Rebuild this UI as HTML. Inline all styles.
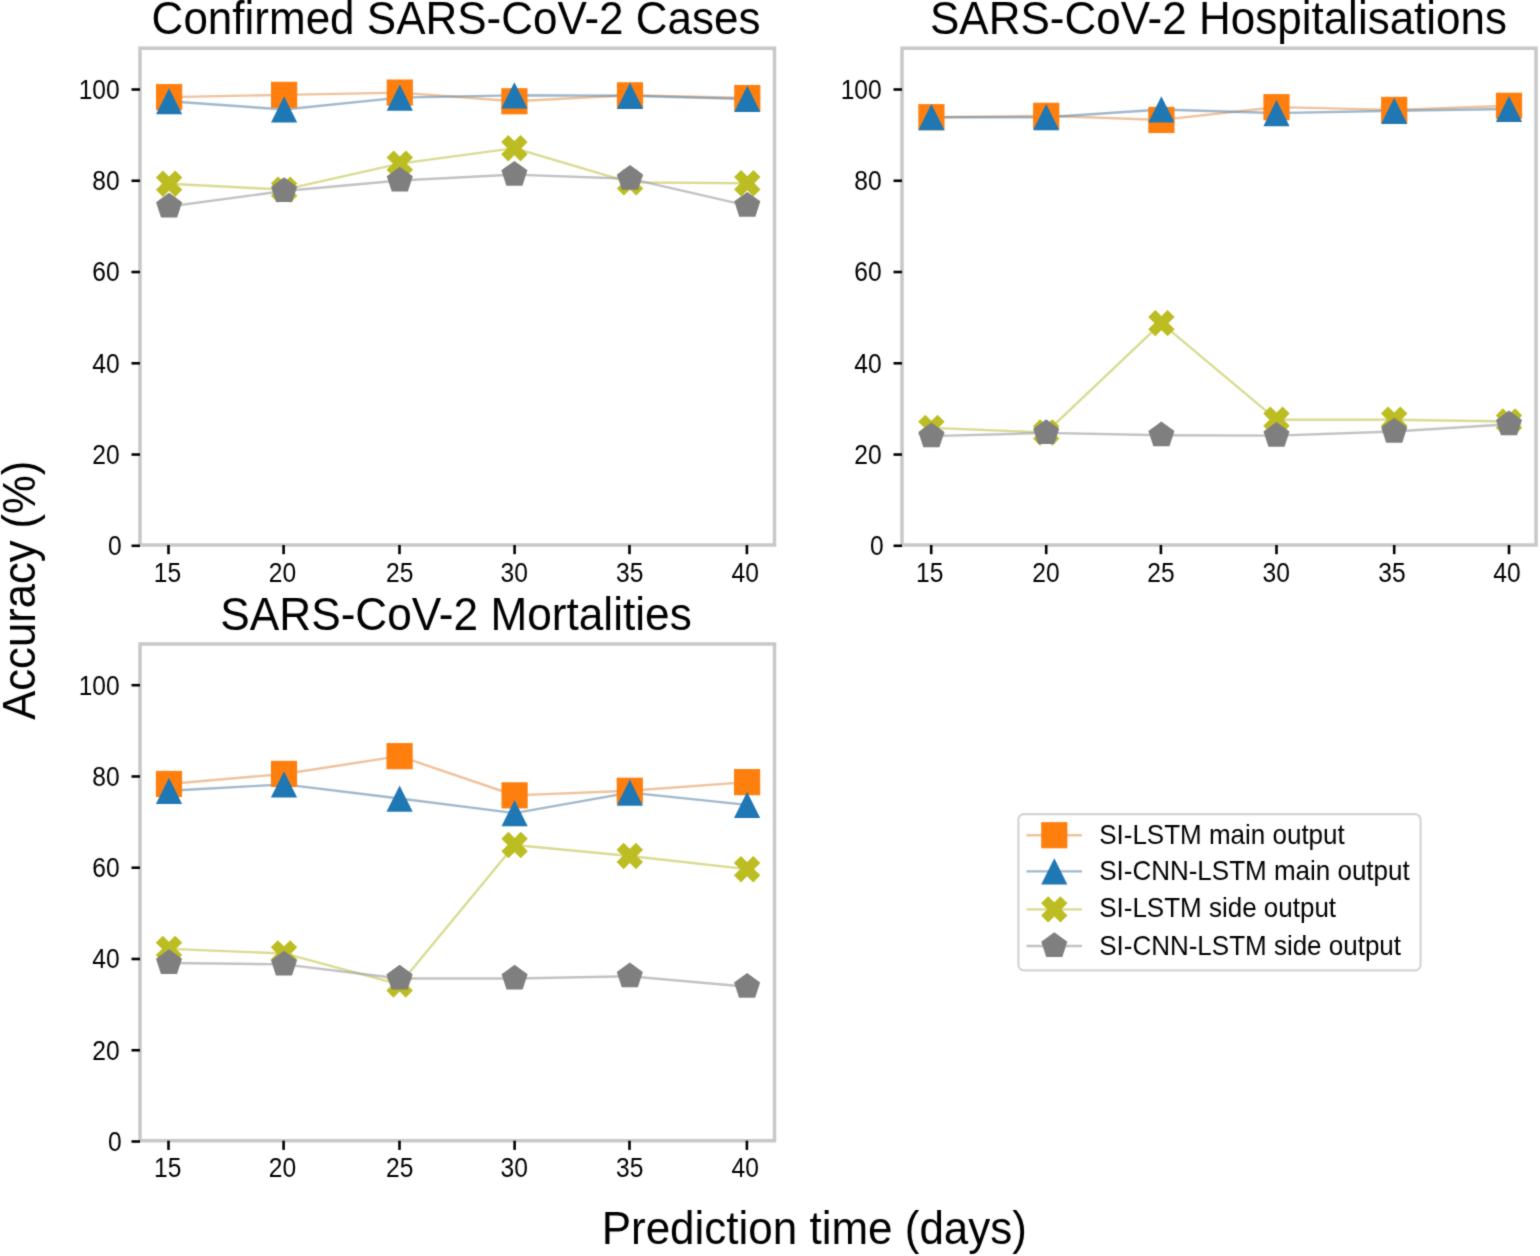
<!DOCTYPE html>
<html><head><meta charset="utf-8"><title>Accuracy chart</title>
<style>
html,body{margin:0;padding:0;background:#fff;}
body{width:1540px;height:1256px;overflow:hidden;}
#c{width:1540px;height:1256px;}
svg text{font-family:"Liberation Sans", Arial, Helvetica, sans-serif;fill:#000;}
</style></head><body><div id="c">
<svg width="1540" height="1256" viewBox="0 0 1540 1256" style="display:block">
<defs><filter id="bl" x="0" y="0" width="1540" height="1256" filterUnits="userSpaceOnUse" color-interpolation-filters="sRGB"><feConvolveMatrix order="3" kernelMatrix="0.03 0.09 0.03 0.09 0.52 0.09 0.03 0.09 0.03" edgeMode="duplicate"/></filter></defs>
<g filter="url(#bl)">
<rect width="1540" height="1256" fill="#fff"/>
<rect x="140.0" y="48.2" width="634.50" height="496.80" fill="none" stroke="#c8c8c8" stroke-width="3.5"/>
<line x1="131.5" y1="545.80" x2="140.0" y2="545.80" stroke="#000" stroke-width="2.6"/>
<text transform="translate(121.70,555.10) scale(0.965,1.065)" text-anchor="end" font-size="25.5">0</text>
<line x1="131.5" y1="454.54" x2="140.0" y2="454.54" stroke="#000" stroke-width="2.6"/>
<text transform="translate(119.70,463.84) scale(0.965,1.065)" text-anchor="end" font-size="25.5">20</text>
<line x1="131.5" y1="363.28" x2="140.0" y2="363.28" stroke="#000" stroke-width="2.6"/>
<text transform="translate(119.70,372.58) scale(0.965,1.065)" text-anchor="end" font-size="25.5">40</text>
<line x1="131.5" y1="272.02" x2="140.0" y2="272.02" stroke="#000" stroke-width="2.6"/>
<text transform="translate(119.70,281.32) scale(0.965,1.065)" text-anchor="end" font-size="25.5">60</text>
<line x1="131.5" y1="180.76" x2="140.0" y2="180.76" stroke="#000" stroke-width="2.6"/>
<text transform="translate(119.70,190.06) scale(0.965,1.065)" text-anchor="end" font-size="25.5">80</text>
<line x1="131.5" y1="89.50" x2="140.0" y2="89.50" stroke="#000" stroke-width="2.6"/>
<text transform="translate(119.70,98.80) scale(0.965,1.065)" text-anchor="end" font-size="25.5">100</text>
<line x1="168.50" y1="545.0" x2="168.50" y2="554.2" stroke="#000" stroke-width="2.6"/>
<text transform="translate(167.40,581.50) scale(0.965,1.065)" text-anchor="middle" font-size="25.5">15</text>
<line x1="283.60" y1="545.0" x2="283.60" y2="554.2" stroke="#000" stroke-width="2.6"/>
<text transform="translate(282.40,581.50) scale(0.965,1.065)" text-anchor="middle" font-size="25.5">20</text>
<line x1="399.50" y1="545.0" x2="399.50" y2="554.2" stroke="#000" stroke-width="2.6"/>
<text transform="translate(399.70,581.50) scale(0.965,1.065)" text-anchor="middle" font-size="25.5">25</text>
<line x1="514.60" y1="545.0" x2="514.60" y2="554.2" stroke="#000" stroke-width="2.6"/>
<text transform="translate(514.30,581.50) scale(0.965,1.065)" text-anchor="middle" font-size="25.5">30</text>
<line x1="629.50" y1="545.0" x2="629.50" y2="554.2" stroke="#000" stroke-width="2.6"/>
<text transform="translate(629.70,581.50) scale(0.965,1.065)" text-anchor="middle" font-size="25.5">35</text>
<line x1="746.90" y1="545.0" x2="746.90" y2="554.2" stroke="#000" stroke-width="2.6"/>
<text transform="translate(745.30,581.50) scale(0.965,1.065)" text-anchor="middle" font-size="25.5">40</text>
<polyline points="169.10,97.15 284.10,94.87 399.80,92.59 514.40,101.25 630.00,95.32 747.30,98.06" fill="none" stroke="#e4995a" stroke-opacity="0.6" stroke-width="2.4" stroke-linejoin="round"/>
<polyline points="169.10,101.25 284.10,109.45 399.80,97.60 514.40,95.32 630.00,95.78 747.30,98.97" fill="none" stroke="#6189aa" stroke-opacity="0.6" stroke-width="2.4" stroke-linejoin="round"/>
<polyline points="169.10,183.71 284.10,189.63 399.80,163.66 514.40,148.17 630.00,182.34 747.30,183.25" fill="none" stroke="#c0c347" stroke-opacity="0.6" stroke-width="2.4" stroke-linejoin="round"/>
<polyline points="169.10,206.49 284.10,191.00 399.80,180.52 514.40,174.60 630.00,178.70 747.30,205.58" fill="none" stroke="#9a9aa0" stroke-opacity="0.6" stroke-width="2.4" stroke-linejoin="round"/>
<rect x="156.00" y="84.05" width="26.20" height="26.20" fill="#ff7f0e"/>
<rect x="271.00" y="81.77" width="26.20" height="26.20" fill="#ff7f0e"/>
<rect x="386.70" y="79.49" width="26.20" height="26.20" fill="#ff7f0e"/>
<rect x="501.30" y="88.15" width="26.20" height="26.20" fill="#ff7f0e"/>
<rect x="616.90" y="82.22" width="26.20" height="26.20" fill="#ff7f0e"/>
<rect x="734.20" y="84.96" width="26.20" height="26.20" fill="#ff7f0e"/>
<polygon points="169.10,88.15 156.00,114.35 182.20,114.35" fill="#1f77b4"/>
<polygon points="284.10,96.35 271.00,122.55 297.20,122.55" fill="#1f77b4"/>
<polygon points="399.80,84.50 386.70,110.70 412.90,110.70" fill="#1f77b4"/>
<polygon points="514.40,82.22 501.30,108.42 527.50,108.42" fill="#1f77b4"/>
<polygon points="630.00,82.68 616.90,108.88 643.10,108.88" fill="#1f77b4"/>
<polygon points="747.30,85.87 734.20,112.07 760.40,112.07" fill="#1f77b4"/>
<polygon points="162.95,171.41 169.10,177.56 175.25,171.41 181.40,177.56 175.25,183.71 181.40,189.86 175.25,196.01 169.10,189.86 162.95,196.01 156.80,189.86 162.95,183.71 156.80,177.56" fill="#bcbd22" stroke="#bcbd22" stroke-width="1.3"/>
<polygon points="277.95,177.33 284.10,183.48 290.25,177.33 296.40,183.48 290.25,189.63 296.40,195.78 290.25,201.93 284.10,195.78 277.95,201.93 271.80,195.78 277.95,189.63 271.80,183.48" fill="#bcbd22" stroke="#bcbd22" stroke-width="1.3"/>
<polygon points="393.65,151.36 399.80,157.51 405.95,151.36 412.10,157.51 405.95,163.66 412.10,169.81 405.95,175.96 399.80,169.81 393.65,175.96 387.50,169.81 393.65,163.66 387.50,157.51" fill="#bcbd22" stroke="#bcbd22" stroke-width="1.3"/>
<polygon points="508.25,135.87 514.40,142.02 520.55,135.87 526.70,142.02 520.55,148.17 526.70,154.32 520.55,160.47 514.40,154.32 508.25,160.47 502.10,154.32 508.25,148.17 502.10,142.02" fill="#bcbd22" stroke="#bcbd22" stroke-width="1.3"/>
<polygon points="623.85,170.04 630.00,176.19 636.15,170.04 642.30,176.19 636.15,182.34 642.30,188.49 636.15,194.64 630.00,188.49 623.85,194.64 617.70,188.49 623.85,182.34 617.70,176.19" fill="#bcbd22" stroke="#bcbd22" stroke-width="1.3"/>
<polygon points="741.15,170.95 747.30,177.10 753.45,170.95 759.60,177.10 753.45,183.25 759.60,189.40 753.45,195.55 747.30,189.40 741.15,195.55 735.00,189.40 741.15,183.25 735.00,177.10" fill="#bcbd22" stroke="#bcbd22" stroke-width="1.3"/>
<polygon points="169.10,192.79 156.07,202.26 161.05,217.57 177.15,217.57 182.13,202.26" fill="#7f7f7f"/>
<polygon points="284.10,177.30 271.07,186.77 276.05,202.08 292.15,202.08 297.13,186.77" fill="#7f7f7f"/>
<polygon points="399.80,166.82 386.77,176.29 391.75,191.60 407.85,191.60 412.83,176.29" fill="#7f7f7f"/>
<polygon points="514.40,160.90 501.37,170.36 506.35,185.68 522.45,185.68 527.43,170.36" fill="#7f7f7f"/>
<polygon points="630.00,165.00 616.97,174.46 621.95,189.78 638.05,189.78 643.03,174.46" fill="#7f7f7f"/>
<polygon points="747.30,191.88 734.27,201.34 739.25,216.66 755.35,216.66 760.33,201.34" fill="#7f7f7f"/>
<rect x="902.0" y="48.2" width="634.00" height="496.80" fill="none" stroke="#c8c8c8" stroke-width="3.5"/>
<line x1="893.5" y1="545.80" x2="902.0" y2="545.80" stroke="#000" stroke-width="2.6"/>
<text transform="translate(883.70,555.10) scale(0.965,1.065)" text-anchor="end" font-size="25.5">0</text>
<line x1="893.5" y1="454.54" x2="902.0" y2="454.54" stroke="#000" stroke-width="2.6"/>
<text transform="translate(881.70,463.84) scale(0.965,1.065)" text-anchor="end" font-size="25.5">20</text>
<line x1="893.5" y1="363.28" x2="902.0" y2="363.28" stroke="#000" stroke-width="2.6"/>
<text transform="translate(881.70,372.58) scale(0.965,1.065)" text-anchor="end" font-size="25.5">40</text>
<line x1="893.5" y1="272.02" x2="902.0" y2="272.02" stroke="#000" stroke-width="2.6"/>
<text transform="translate(881.70,281.32) scale(0.965,1.065)" text-anchor="end" font-size="25.5">60</text>
<line x1="893.5" y1="180.76" x2="902.0" y2="180.76" stroke="#000" stroke-width="2.6"/>
<text transform="translate(881.70,190.06) scale(0.965,1.065)" text-anchor="end" font-size="25.5">80</text>
<line x1="893.5" y1="89.50" x2="902.0" y2="89.50" stroke="#000" stroke-width="2.6"/>
<text transform="translate(881.70,98.80) scale(0.965,1.065)" text-anchor="end" font-size="25.5">100</text>
<line x1="931.20" y1="545.0" x2="931.20" y2="554.2" stroke="#000" stroke-width="2.6"/>
<text transform="translate(929.80,581.50) scale(0.965,1.065)" text-anchor="middle" font-size="25.5">15</text>
<line x1="1046.20" y1="545.0" x2="1046.20" y2="554.2" stroke="#000" stroke-width="2.6"/>
<text transform="translate(1046.00,581.50) scale(0.965,1.065)" text-anchor="middle" font-size="25.5">20</text>
<line x1="1160.90" y1="545.0" x2="1160.90" y2="554.2" stroke="#000" stroke-width="2.6"/>
<text transform="translate(1160.90,581.50) scale(0.965,1.065)" text-anchor="middle" font-size="25.5">25</text>
<line x1="1276.50" y1="545.0" x2="1276.50" y2="554.2" stroke="#000" stroke-width="2.6"/>
<text transform="translate(1276.20,581.50) scale(0.965,1.065)" text-anchor="middle" font-size="25.5">30</text>
<line x1="1394.20" y1="545.0" x2="1394.20" y2="554.2" stroke="#000" stroke-width="2.6"/>
<text transform="translate(1391.90,581.50) scale(0.965,1.065)" text-anchor="middle" font-size="25.5">35</text>
<line x1="1509.00" y1="545.0" x2="1509.00" y2="554.2" stroke="#000" stroke-width="2.6"/>
<text transform="translate(1506.90,581.50) scale(0.965,1.065)" text-anchor="middle" font-size="25.5">40</text>
<polyline points="931.40,117.19 1046.20,115.82 1161.40,119.93 1276.50,107.17 1394.20,109.90 1509.00,105.80" fill="none" stroke="#e4995a" stroke-opacity="0.6" stroke-width="2.4" stroke-linejoin="round"/>
<polyline points="931.40,117.19 1046.20,117.19 1161.40,109.45 1276.50,113.09 1394.20,110.81 1509.00,108.99" fill="none" stroke="#6189aa" stroke-opacity="0.6" stroke-width="2.4" stroke-linejoin="round"/>
<polyline points="931.40,427.91 1046.20,432.47 1161.40,323.12 1276.50,419.71 1394.20,419.71 1509.00,421.53" fill="none" stroke="#c0c347" stroke-opacity="0.6" stroke-width="2.4" stroke-linejoin="round"/>
<polyline points="931.40,436.11 1046.20,432.92 1161.40,435.20 1276.50,435.66 1394.20,431.56 1509.00,424.27" fill="none" stroke="#9a9aa0" stroke-opacity="0.6" stroke-width="2.4" stroke-linejoin="round"/>
<rect x="918.30" y="104.09" width="26.20" height="26.20" fill="#ff7f0e"/>
<rect x="1033.10" y="102.72" width="26.20" height="26.20" fill="#ff7f0e"/>
<rect x="1148.30" y="106.83" width="26.20" height="26.20" fill="#ff7f0e"/>
<rect x="1263.40" y="94.07" width="26.20" height="26.20" fill="#ff7f0e"/>
<rect x="1381.10" y="96.80" width="26.20" height="26.20" fill="#ff7f0e"/>
<rect x="1495.90" y="92.70" width="26.20" height="26.20" fill="#ff7f0e"/>
<polygon points="931.40,104.09 918.30,130.29 944.50,130.29" fill="#1f77b4"/>
<polygon points="1046.20,104.09 1033.10,130.29 1059.30,130.29" fill="#1f77b4"/>
<polygon points="1161.40,96.35 1148.30,122.55 1174.50,122.55" fill="#1f77b4"/>
<polygon points="1276.50,99.99 1263.40,126.19 1289.60,126.19" fill="#1f77b4"/>
<polygon points="1394.20,97.71 1381.10,123.91 1407.30,123.91" fill="#1f77b4"/>
<polygon points="1509.00,95.89 1495.90,122.09 1522.10,122.09" fill="#1f77b4"/>
<polygon points="925.25,415.61 931.40,421.76 937.55,415.61 943.70,421.76 937.55,427.91 943.70,434.06 937.55,440.21 931.40,434.06 925.25,440.21 919.10,434.06 925.25,427.91 919.10,421.76" fill="#bcbd22" stroke="#bcbd22" stroke-width="1.3"/>
<polygon points="1040.05,420.17 1046.20,426.32 1052.35,420.17 1058.50,426.32 1052.35,432.47 1058.50,438.62 1052.35,444.77 1046.20,438.62 1040.05,444.77 1033.90,438.62 1040.05,432.47 1033.90,426.32" fill="#bcbd22" stroke="#bcbd22" stroke-width="1.3"/>
<polygon points="1155.25,310.82 1161.40,316.97 1167.55,310.82 1173.70,316.97 1167.55,323.12 1173.70,329.27 1167.55,335.42 1161.40,329.27 1155.25,335.42 1149.10,329.27 1155.25,323.12 1149.10,316.97" fill="#bcbd22" stroke="#bcbd22" stroke-width="1.3"/>
<polygon points="1270.35,407.41 1276.50,413.56 1282.65,407.41 1288.80,413.56 1282.65,419.71 1288.80,425.86 1282.65,432.01 1276.50,425.86 1270.35,432.01 1264.20,425.86 1270.35,419.71 1264.20,413.56" fill="#bcbd22" stroke="#bcbd22" stroke-width="1.3"/>
<polygon points="1388.05,407.41 1394.20,413.56 1400.35,407.41 1406.50,413.56 1400.35,419.71 1406.50,425.86 1400.35,432.01 1394.20,425.86 1388.05,432.01 1381.90,425.86 1388.05,419.71 1381.90,413.56" fill="#bcbd22" stroke="#bcbd22" stroke-width="1.3"/>
<polygon points="1502.85,409.23 1509.00,415.38 1515.15,409.23 1521.30,415.38 1515.15,421.53 1521.30,427.68 1515.15,433.83 1509.00,427.68 1502.85,433.83 1496.70,427.68 1502.85,421.53 1496.70,415.38" fill="#bcbd22" stroke="#bcbd22" stroke-width="1.3"/>
<polygon points="931.40,422.41 918.37,431.88 923.35,447.20 939.45,447.20 944.43,431.88" fill="#7f7f7f"/>
<polygon points="1046.20,419.22 1033.17,428.69 1038.15,444.01 1054.25,444.01 1059.23,428.69" fill="#7f7f7f"/>
<polygon points="1161.40,421.50 1148.37,430.97 1153.35,446.28 1169.45,446.28 1174.43,430.97" fill="#7f7f7f"/>
<polygon points="1276.50,421.96 1263.47,431.42 1268.45,446.74 1284.55,446.74 1289.53,431.42" fill="#7f7f7f"/>
<polygon points="1394.20,417.86 1381.17,427.32 1386.15,442.64 1402.25,442.64 1407.23,427.32" fill="#7f7f7f"/>
<polygon points="1509.00,410.57 1495.97,420.03 1500.95,435.35 1517.05,435.35 1522.03,420.03" fill="#7f7f7f"/>
<rect x="140.0" y="644.0" width="634.50" height="496.70" fill="none" stroke="#c8c8c8" stroke-width="3.5"/>
<line x1="131.5" y1="1141.50" x2="140.0" y2="1141.50" stroke="#000" stroke-width="2.6"/>
<text transform="translate(121.70,1150.80) scale(0.965,1.065)" text-anchor="end" font-size="25.5">0</text>
<line x1="131.5" y1="1050.24" x2="140.0" y2="1050.24" stroke="#000" stroke-width="2.6"/>
<text transform="translate(119.70,1059.54) scale(0.965,1.065)" text-anchor="end" font-size="25.5">20</text>
<line x1="131.5" y1="958.98" x2="140.0" y2="958.98" stroke="#000" stroke-width="2.6"/>
<text transform="translate(119.70,968.28) scale(0.965,1.065)" text-anchor="end" font-size="25.5">40</text>
<line x1="131.5" y1="867.72" x2="140.0" y2="867.72" stroke="#000" stroke-width="2.6"/>
<text transform="translate(119.70,877.02) scale(0.965,1.065)" text-anchor="end" font-size="25.5">60</text>
<line x1="131.5" y1="776.46" x2="140.0" y2="776.46" stroke="#000" stroke-width="2.6"/>
<text transform="translate(119.70,785.76) scale(0.965,1.065)" text-anchor="end" font-size="25.5">80</text>
<line x1="131.5" y1="685.20" x2="140.0" y2="685.20" stroke="#000" stroke-width="2.6"/>
<text transform="translate(119.70,694.50) scale(0.965,1.065)" text-anchor="end" font-size="25.5">100</text>
<line x1="168.50" y1="1140.7" x2="168.50" y2="1149.9" stroke="#000" stroke-width="2.6"/>
<text transform="translate(167.80,1177.20) scale(0.965,1.065)" text-anchor="middle" font-size="25.5">15</text>
<line x1="283.60" y1="1140.7" x2="283.60" y2="1149.9" stroke="#000" stroke-width="2.6"/>
<text transform="translate(282.40,1177.20) scale(0.965,1.065)" text-anchor="middle" font-size="25.5">20</text>
<line x1="399.50" y1="1140.7" x2="399.50" y2="1149.9" stroke="#000" stroke-width="2.6"/>
<text transform="translate(399.80,1177.20) scale(0.965,1.065)" text-anchor="middle" font-size="25.5">25</text>
<line x1="514.60" y1="1140.7" x2="514.60" y2="1149.9" stroke="#000" stroke-width="2.6"/>
<text transform="translate(514.30,1177.20) scale(0.965,1.065)" text-anchor="middle" font-size="25.5">30</text>
<line x1="629.50" y1="1140.7" x2="629.50" y2="1149.9" stroke="#000" stroke-width="2.6"/>
<text transform="translate(629.70,1177.20) scale(0.965,1.065)" text-anchor="middle" font-size="25.5">35</text>
<line x1="746.90" y1="1140.7" x2="746.90" y2="1149.9" stroke="#000" stroke-width="2.6"/>
<text transform="translate(745.30,1177.20) scale(0.965,1.065)" text-anchor="middle" font-size="25.5">40</text>
<polyline points="169.00,783.97 284.00,773.94 399.60,756.17 514.60,795.36 629.80,790.80 747.10,782.14" fill="none" stroke="#e4995a" stroke-opacity="0.6" stroke-width="2.4" stroke-linejoin="round"/>
<polyline points="169.00,790.80 284.00,784.42 399.60,798.54 514.60,813.12 629.80,792.62 747.10,804.92" fill="none" stroke="#6189aa" stroke-opacity="0.6" stroke-width="2.4" stroke-linejoin="round"/>
<polyline points="169.00,948.89 284.00,953.45 399.60,984.43 514.60,845.02 629.80,855.95 747.10,869.16" fill="none" stroke="#c0c347" stroke-opacity="0.6" stroke-width="2.4" stroke-linejoin="round"/>
<polyline points="169.00,963.02 284.00,964.38 399.60,978.51 514.60,978.51 629.80,976.23 747.10,986.71" fill="none" stroke="#9a9aa0" stroke-opacity="0.6" stroke-width="2.4" stroke-linejoin="round"/>
<rect x="155.90" y="770.87" width="26.20" height="26.20" fill="#ff7f0e"/>
<rect x="270.90" y="760.84" width="26.20" height="26.20" fill="#ff7f0e"/>
<rect x="386.50" y="743.07" width="26.20" height="26.20" fill="#ff7f0e"/>
<rect x="501.50" y="782.26" width="26.20" height="26.20" fill="#ff7f0e"/>
<rect x="616.70" y="777.70" width="26.20" height="26.20" fill="#ff7f0e"/>
<rect x="734.00" y="769.04" width="26.20" height="26.20" fill="#ff7f0e"/>
<polygon points="169.00,777.70 155.90,803.90 182.10,803.90" fill="#1f77b4"/>
<polygon points="284.00,771.32 270.90,797.52 297.10,797.52" fill="#1f77b4"/>
<polygon points="399.60,785.44 386.50,811.64 412.70,811.64" fill="#1f77b4"/>
<polygon points="514.60,800.02 501.50,826.22 527.70,826.22" fill="#1f77b4"/>
<polygon points="629.80,779.52 616.70,805.72 642.90,805.72" fill="#1f77b4"/>
<polygon points="747.10,791.82 734.00,818.02 760.20,818.02" fill="#1f77b4"/>
<polygon points="162.85,936.59 169.00,942.74 175.15,936.59 181.30,942.74 175.15,948.89 181.30,955.04 175.15,961.19 169.00,955.04 162.85,961.19 156.70,955.04 162.85,948.89 156.70,942.74" fill="#bcbd22" stroke="#bcbd22" stroke-width="1.3"/>
<polygon points="277.85,941.15 284.00,947.30 290.15,941.15 296.30,947.30 290.15,953.45 296.30,959.60 290.15,965.75 284.00,959.60 277.85,965.75 271.70,959.60 277.85,953.45 271.70,947.30" fill="#bcbd22" stroke="#bcbd22" stroke-width="1.3"/>
<polygon points="393.45,972.13 399.60,978.28 405.75,972.13 411.90,978.28 405.75,984.43 411.90,990.58 405.75,996.73 399.60,990.58 393.45,996.73 387.30,990.58 393.45,984.43 387.30,978.28" fill="#bcbd22" stroke="#bcbd22" stroke-width="1.3"/>
<polygon points="508.45,832.72 514.60,838.87 520.75,832.72 526.90,838.87 520.75,845.02 526.90,851.17 520.75,857.32 514.60,851.17 508.45,857.32 502.30,851.17 508.45,845.02 502.30,838.87" fill="#bcbd22" stroke="#bcbd22" stroke-width="1.3"/>
<polygon points="623.65,843.65 629.80,849.80 635.95,843.65 642.10,849.80 635.95,855.95 642.10,862.10 635.95,868.25 629.80,862.10 623.65,868.25 617.50,862.10 623.65,855.95 617.50,849.80" fill="#bcbd22" stroke="#bcbd22" stroke-width="1.3"/>
<polygon points="740.95,856.86 747.10,863.01 753.25,856.86 759.40,863.01 753.25,869.16 759.40,875.31 753.25,881.46 747.10,875.31 740.95,881.46 734.80,875.31 740.95,869.16 734.80,863.01" fill="#bcbd22" stroke="#bcbd22" stroke-width="1.3"/>
<polygon points="169.00,949.32 155.97,958.78 160.95,974.10 177.05,974.10 182.03,958.78" fill="#7f7f7f"/>
<polygon points="284.00,950.68 270.97,960.15 275.95,975.47 292.05,975.47 297.03,960.15" fill="#7f7f7f"/>
<polygon points="399.60,964.81 386.57,974.27 391.55,989.59 407.65,989.59 412.63,974.27" fill="#7f7f7f"/>
<polygon points="514.60,964.81 501.57,974.27 506.55,989.59 522.65,989.59 527.63,974.27" fill="#7f7f7f"/>
<polygon points="629.80,962.53 616.77,971.99 621.75,987.31 637.85,987.31 642.83,971.99" fill="#7f7f7f"/>
<polygon points="747.10,973.01 734.07,982.47 739.05,997.79 755.15,997.79 760.13,982.47" fill="#7f7f7f"/>
<text transform="translate(456.05,33.50) scale(1,1.045)" text-anchor="middle" font-size="44">Confirmed SARS-CoV-2 Cases</text>
<text transform="translate(1218.50,33.50) scale(1,1.045)" text-anchor="middle" font-size="44">SARS-CoV-2 Hospitalisations</text>
<text transform="translate(456.05,629.80) scale(1,1.045)" text-anchor="middle" font-size="44.2">SARS-CoV-2 Mortalities</text>
<text transform="translate(814.30,1244.00) scale(1,1.07)" text-anchor="middle" font-size="44">Prediction time (days)</text>
<text transform="translate(34.9,590.2) rotate(-90) scale(1,1.045)" text-anchor="middle" font-size="43.6">Accuracy (%)</text>
<rect x="1018.4" y="814.1" width="402.20" height="156.20" rx="5.5" fill="#fff" stroke="#d4d4d4" stroke-width="2.2"/>
<line x1="1026.5" y1="835.20" x2="1082" y2="835.20" stroke="#e4995a" stroke-opacity="0.6" stroke-width="2.4"/>
<rect x="1041.20" y="822.10" width="26.20" height="26.20" fill="#ff7f0e"/>
<text transform="translate(1099.20,844.40) scale(1,1.045)" text-anchor="start" font-size="26">SI-LSTM main output</text>
<line x1="1026.5" y1="871.40" x2="1082" y2="871.40" stroke="#6189aa" stroke-opacity="0.6" stroke-width="2.4"/>
<polygon points="1054.30,858.30 1041.20,884.50 1067.40,884.50" fill="#1f77b4"/>
<text transform="translate(1099.20,880.30) scale(1,1.045)" text-anchor="start" font-size="26">SI-CNN-LSTM main output</text>
<line x1="1026.5" y1="909.40" x2="1082" y2="909.40" stroke="#c0c347" stroke-opacity="0.6" stroke-width="2.4"/>
<polygon points="1048.15,897.10 1054.30,903.25 1060.45,897.10 1066.60,903.25 1060.45,909.40 1066.60,915.55 1060.45,921.70 1054.30,915.55 1048.15,921.70 1042.00,915.55 1048.15,909.40 1042.00,903.25" fill="#bcbd22" stroke="#bcbd22" stroke-width="1.3"/>
<text transform="translate(1099.20,917.00) scale(1,1.045)" text-anchor="start" font-size="26">SI-LSTM side output</text>
<line x1="1026.5" y1="946.00" x2="1082" y2="946.00" stroke="#9a9aa0" stroke-opacity="0.6" stroke-width="2.4"/>
<polygon points="1054.30,932.30 1041.27,941.77 1046.25,957.08 1062.35,957.08 1067.33,941.77" fill="#7f7f7f"/>
<text transform="translate(1099.20,954.80) scale(1,1.045)" text-anchor="start" font-size="26">SI-CNN-LSTM side output</text>
</g>
</svg>
</div></body></html>
